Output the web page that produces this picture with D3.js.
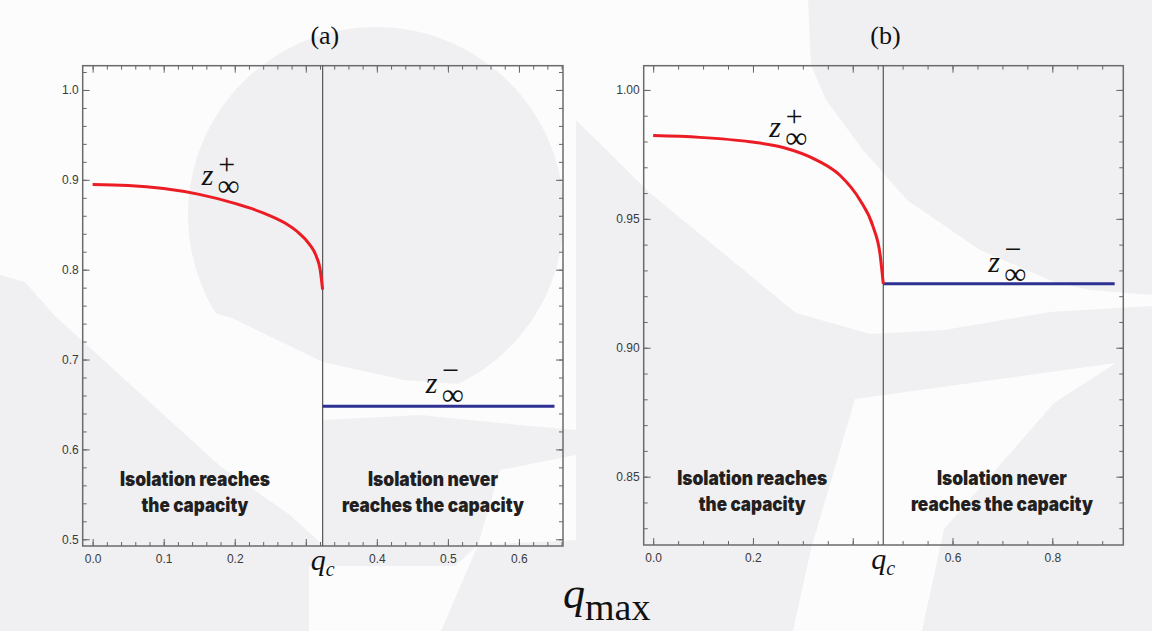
<!DOCTYPE html>
<html lang="en">
<head>
  <meta charset="UTF-8">
  <title>z infinity versus q max</title>
  <script src="https://d3js.org/d3.v7.min.js"></script>
  <style>
    body, html {
      margin: 0;
      padding: 0;
      background: #fbfcfb;
    }
    svg {
      display: block;
    }
    .tick text {
      font-family: "Liberation Sans", Arial, sans-serif;
      font-size: 12px;
      fill: #3a3a3a;
    }
    .tick line {
      stroke: #666;
      stroke-width: 1;
    }
    .region-label {
      font-family: Inter, Roboto, sans-serif;
      font-weight: 900;
      font-size: 19.5px;
      fill: #231f20;
      text-anchor: middle;
    }
    .math {
      font-family: "Liberation Serif", "DejaVu Serif", serif;
      fill: #111;
    }
    .panel-title {
      font-family: "Liberation Serif", serif;
      font-size: 26px;
      fill: #111;
      text-anchor: middle;
    }
  </style>
</head>
<body>
  <script>
    // ---- panel (a) data ----
    const qPlusA = [0, 0.05, 0.10, 0.15, 0.20, 0.24, 0.27, 0.29, 0.305, 0.315, 0.320, 0.3237];
    const zPlusA = [0.8947, 0.8937, 0.8903, 0.8838, 0.8738, 0.8632, 0.8522, 0.8410, 0.8285, 0.8145, 0.801, 0.7778];
    const qcA = 0.3237;
    const zMinusA = 0.648;
    const qEndA = 0.65;
    const xTicksA = [0, 0.1, 0.2, 0.3, 0.4, 0.5, 0.6];
    const xTickLabelsA = ["0.0", "0.1", "0.2", "", "0.4", "0.5", "0.6"];
    const yTicksA = [0.5, 0.6, 0.7, 0.8, 0.9, 1.0];
    const yTickLabelsA = ["0.5", "0.6", "0.7", "0.8", "0.9", "1.0"];

    // ---- panel (b) data ----
    const qPlusB = [0, 0.0935, 0.1937, 0.2606, 0.3275, 0.3743, 0.4144, 0.4411, 0.4545, 0.4612];
    const zPlusB = [0.9823, 0.9816, 0.9799, 0.9777, 0.9728, 0.9669, 0.9573, 0.9468, 0.9366, 0.9248];
    const qcB = 0.4612;
    const zMinusB = 0.9248;
    const qEndB = 0.925;
    const xTicksB = [0, 0.2, 0.4, 0.6, 0.8];
    const xTickLabelsB = ["0.0", "0.2", "", "0.6", "0.8"];
    const yTicksB = [0.85, 0.90, 0.95, 1.00];
    const yTickLabelsB = ["0.85", "0.90", "0.95", "1.00"];

    const regionLeft = ["Isolation reaches", "the capacity"];
    const regionRight = ["Isolation never", "reaches the capacity"];
    const regionLeftWidths = [150, 107];
    const regionRightWidths = [130, 182];

    // light watermark shapes behind the plots
    const shadePolys = [
      [[0,275],[25,282],[55,316],[110,366],[165,416],[220,466],[290,515],[323,545],[323,566],[309,566],[309,631],[0,631]],
      [[323,420],[420,415],[520,425],[576,430],[576,455],[500,470],[478,545],[455,566],[323,566]],
      [[808,0],[1152,0],[1152,295],[1090,290],[1054,282],[980,250],[907,200],[863,150],[826,100],[811,65]],
      [[576,120],[650,193],[796,313],[870,334],[944,330],[1050,312],[1152,306],[1152,631],[922,631],[944,529],[1054,403],[1116,363],[855,399],[811,549],[793,631],[441,631],[478,545],[576,540]]
    ];
    const domeClip = [[170,0],[566,0],[566,392],[404,380],[323,362],[232,318],[170,300]];

    const svg = d3.select("body").append("svg")
      .attr("width", 1152)
      .attr("height", 631);

    svg.append("clipPath").attr("id", "dome-clip")
      .append("path").attr("d", "M" + domeClip.join("L") + "Z");

    const shade = svg.append("g");
    shade.append("circle")
      .attr("cx", 376).attr("cy", 215).attr("r", 188)
      .attr("fill", "#f0f0f2")
      .attr("clip-path", "url(#dome-clip)");
    shadePolys.forEach(p => shade.append("path").attr("d", "M" + p.join("L") + "Z").attr("fill", "#f0f0f2"));

    const panels = [
      {
        title: "(a)", box: [82.7, 65.7, 563, 546],
        xDom: [-0.014, 0.662], yDom: [0.4925, 1.027],
        xMinor: d3.range(0, 0.661, 0.02), yMinor: d3.range(0.5, 1.021, 0.02),
        xTicks: xTicksA, xLabels: xTickLabelsA, yTicks: yTicksA, yLabels: yTickLabelsA,
        q: qPlusA, z: zPlusA, qc: qcA, zMinus: zMinusA, qEnd: qEndA,
        plusAt: [0.1534, 0.8943], minusAt: [0.469, 0.6625],
        textAt: [0.144, 0.479]
      },
      {
        title: "(b)", box: [643.7, 65.7, 1123.3, 545],
        xDom: [-0.019, 0.9423], yDom: [0.8235, 1.0094],
        xMinor: d3.range(0, 0.941, 0.05), yMinor: d3.range(0.83, 1.0091, 0.01),
        xTicks: xTicksB, xLabels: xTickLabelsB, yTicks: yTicksB, yLabels: yTickLabelsB,
        q: qPlusB, z: zPlusB, qc: qcB, zMinus: zMinusB, qEnd: qEndB,
        plusAt: [0.2326, 0.9819], minusAt: [0.6717, 0.9293],
        textAt: [0.1985, 0.699]
      }
    ];

    // z with a sign above and infinity below, kept in one text element
    function zLabel(g, x, y, sign) {
      const t = g.append("text").attr("class", "math").attr("x", x).attr("y", y);
      const up = sign === "+" ? -11 : -13;
      t.append("tspan").style("font-style", "italic").style("font-size", "30px").text("z");
      t.append("tspan").attr("dx", 4.8).attr("dy", up).style("font-size", "30px").text(sign);
      t.append("tspan").attr("dx", -17.5).attr("dy", 11.5 - up).style("font-size", "31px").text("\u221E");
    }

    function drawPanel(p) {
      const [x0, y0, x1, y1] = p.box;
      const x = d3.scaleLinear().domain(p.xDom).range([x0, x1]);
      const y = d3.scaleLinear().domain(p.yDom).range([y1, y0]);
      const g = svg.append("g");

      // minor ticks on all four sides
      const minor = [
        [d3.axisBottom(x).tickValues(p.xMinor), `translate(0,${y1})`],
        [d3.axisTop(x).tickValues(p.xMinor), `translate(0,${y0})`],
        [d3.axisLeft(y).tickValues(p.yMinor), `translate(${x0},0)`],
        [d3.axisRight(y).tickValues(p.yMinor), `translate(${x1},0)`]
      ];
      minor.forEach(([ax, tr]) => {
        g.append("g").attr("transform", tr)
          .call(ax.tickSize(-4).tickFormat(""))
          .call(s => s.select(".domain").remove());
      });

      // major ticks
      g.append("g").attr("transform", `translate(0,${y1})`)
        .call(d3.axisBottom(x).tickValues(p.xTicks).tickSize(-7).tickPadding(8)
          .tickFormat((d, i) => p.xLabels[i]))
        .call(s => s.select(".domain").remove());
      g.append("g").attr("transform", `translate(0,${y0})`)
        .call(d3.axisTop(x).tickValues(p.xTicks).tickSize(-7).tickFormat(""))
        .call(s => s.select(".domain").remove());
      g.append("g").attr("transform", `translate(${x0},0)`)
        .call(d3.axisLeft(y).tickValues(p.yTicks).tickSize(-7).tickPadding(4)
          .tickFormat((d, i) => p.yLabels[i]))
        .call(s => s.select(".domain").remove());
      g.append("g").attr("transform", `translate(${x1},0)`)
        .call(d3.axisRight(y).tickValues(p.yTicks).tickSize(-7).tickFormat(""))
        .call(s => s.select(".domain").remove());

      // frame
      g.append("rect")
        .attr("x", x0).attr("y", y0)
        .attr("width", x1 - x0).attr("height", y1 - y0)
        .attr("fill", "none").attr("stroke", "#6b6b6b").attr("stroke-width", 1.5);

      // q_c divider
      g.append("line")
        .attr("x1", x(p.qc)).attr("x2", x(p.qc))
        .attr("y1", y0).attr("y2", y1)
        .attr("stroke", "#555").attr("stroke-width", 1.2);

      // z_inf^- branch
      g.append("line")
        .attr("x1", x(p.qc)).attr("x2", x(p.qEnd))
        .attr("y1", y(p.zMinus)).attr("y2", y(p.zMinus))
        .attr("stroke", "#2e3192").attr("stroke-width", 3);

      // z_inf^+ branch
      const line = d3.line()
        .x((d, i) => x(p.q[i]))
        .y(d => y(d))
        .curve(d3.curveMonotoneX);
      g.append("path")
        .attr("d", line(p.z))
        .attr("fill", "none")
        .attr("stroke", "#ec1c24")
        .attr("stroke-width", 3);

      zLabel(g, x(p.plusAt[0]), y(p.plusAt[1]), "+");
      zLabel(g, x(p.minusAt[0]), y(p.minusAt[1]), "\u2212");

      // region descriptions
      [[regionLeft, regionLeftWidths, p.textAt[0]], [regionRight, regionRightWidths, p.textAt[1]]]
        .forEach(([lines, widths, qx]) => {
          lines.forEach((t, i) => {
            g.append("text").attr("class", "region-label")
              .attr("x", x(qx)).attr("y", y1 - 60 + i * 26)
              .attr("textLength", widths[i])
              .attr("lengthAdjust", "spacingAndGlyphs")
              .text(t);
          });
        });

      // q_c tick label
      const ql = g.append("text").attr("class", "math")
        .attr("x", x(p.qc) - 12).attr("y", y1 + 24);
      ql.append("tspan").style("font-style", "italic").style("font-size", "30px").text("q");
      ql.append("tspan").attr("dy", 6).style("font-style", "italic").style("font-size", "20px").text("c");

      // panel title
      svg.append("text").attr("class", "panel-title")
        .attr("x", (x0 + x1) / 2 + 2).attr("y", 44)
        .text(p.title);
    }

    panels.forEach(drawPanel);

    // shared x label
    const xl = svg.append("text").attr("class", "math").attr("x", 563).attr("y", 608);
    xl.append("tspan").style("font-style", "italic").style("font-size", "44px").text("q");
    xl.append("tspan").attr("dy", 12).style("font-size", "38px").text("max");
  </script>
</body>
</html>
